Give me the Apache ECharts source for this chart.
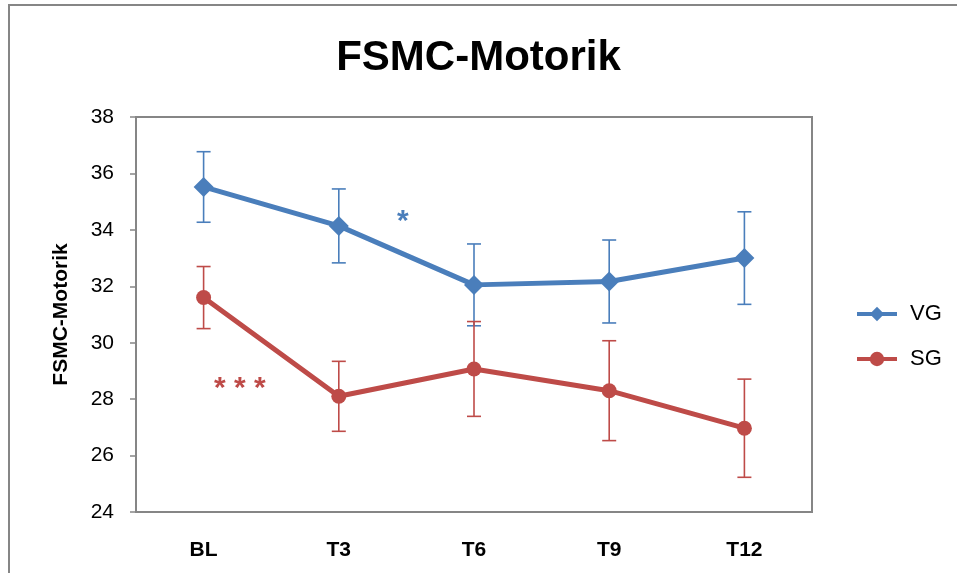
<!DOCTYPE html>
<html>
<head>
<meta charset="utf-8">
<script src="https://cdn.jsdelivr.net/npm/echarts@6/dist/echarts.min.js"></script>
<style>
  html, body { margin: 0; padding: 0; background: #fff; }
  #chart { width: 957px; height: 573px; }
</style>
</head>
<body>
<div id="chart"></div>
<script>
// Measurement points
const timepoints = ['BL', 'T3', 'T6', 'T9', 'T12'];

// Group means and error-bar half widths
const vgMean = [35.52, 34.14, 32.05, 32.17, 33.0];
const vgErr  = [1.25, 1.31, 1.45, 1.47, 1.64];
const sgMean = [31.6, 28.1, 29.07, 28.3, 26.97];
const sgErr  = [1.1, 1.24, 1.68, 1.77, 1.74];

const yTicks = [24, 26, 28, 30, 32, 34, 36, 38];

const BLUE = '#4a7ebb';
const RED = '#be4b48';
const FONT = '"Liberation Sans", Arial, sans-serif';

function errorSeries(name, means, errs, color) {
  return {
    type: 'custom',
    name: name + ' err',
    z: 1,
    silent: true,
    data: means.map((m, i) => [i, m - errs[i], m + errs[i]]),
    renderItem: function (params, api) {
      const x = api.value(0);
      const lo = api.coord([x, api.value(1)]);
      const hi = api.coord([x, api.value(2)]);
      const half = 7;
      const style = { stroke: color, lineWidth: 1.6 };
      return {
        type: 'group',
        children: [
          { type: 'line', shape: { x1: lo[0], y1: lo[1], x2: hi[0], y2: hi[1] }, style: style },
          { type: 'line', shape: { x1: lo[0] - half, y1: lo[1], x2: lo[0] + half, y2: lo[1] }, style: style },
          { type: 'line', shape: { x1: hi[0] - half, y1: hi[1], x2: hi[0] + half, y2: hi[1] }, style: style }
        ]
      };
    }
  };
}

const chart = echarts.init(document.getElementById('chart'));
chart.setOption({
  animation: false,
  backgroundColor: '#fff',
  title: {
    text: 'FSMC-Motorik',
    left: 'center',
    top: 32,
    textStyle: { fontFamily: FONT, fontSize: 42, fontWeight: 'bold', color: '#000' }
  },
  legend: {
    orient: 'vertical',
    left: 850,
    top: 298,
    itemWidth: 40,
    itemHeight: 18,
    itemGap: 23,
    data: ['VG', 'SG'],
    lineStyle: { width: 4 },
    textStyle: { fontFamily: FONT, fontSize: 22, color: '#000', padding: [0, 0, 0, 8] }
  },
  grid: {
    left: 136, top: 117, right: 145, bottom: 61,
    show: true, borderColor: '#868686', borderWidth: 2
  },
  xAxis: {
    type: 'category',
    data: timepoints,
    boundaryGap: true,
    axisLine: { lineStyle: { color: '#868686', width: 2 } },
    axisTick: { show: false },
    axisLabel: { margin: 28, fontFamily: FONT, fontSize: 21, fontWeight: 'bold', color: '#000' }
  },
  yAxis: {
    type: 'value',
    min: yTicks[0],
    max: yTicks[yTicks.length - 1],
    interval: 2,
    name: 'FSMC-Motorik',
    nameLocation: 'middle',
    nameGap: 64,
    nameTextStyle: { fontFamily: FONT, fontSize: 21, fontWeight: 'bold', color: '#000' },
    axisLine: { show: true, lineStyle: { color: '#868686', width: 2 } },
    axisTick: { show: true, length: 6, lineStyle: { color: '#868686', width: 1.5 } },
    splitLine: { show: false },
    axisLabel: { margin: 22, fontFamily: FONT, fontSize: 21, color: '#000' }
  },
  series: [
    errorSeries('VG', vgMean, vgErr, BLUE),
    errorSeries('SG', sgMean, sgErr, RED),
    {
      name: 'VG',
      type: 'line',
      data: vgMean,
      z: 3,
      symbol: 'diamond',
      symbolSize: 20,
      lineStyle: { color: BLUE, width: 5 },
      itemStyle: { color: BLUE }
    },
    {
      name: 'SG',
      type: 'line',
      data: sgMean,
      z: 3,
      symbol: 'circle',
      symbolSize: 15,
      lineStyle: { color: RED, width: 5 },
      itemStyle: { color: RED }
    }
  ],
  graphic: [
    {
      type: 'rect',
      shape: { x: 9, y: 5, width: 960, height: 600 },
      style: { fill: 'none', stroke: '#868686', lineWidth: 2 },
      silent: true
    },
    {
      type: 'text', left: 397, top: 207,
      style: { text: '*', fill: BLUE, font: 'bold 30px ' + FONT }
    },
    {
      type: 'text', left: 214, top: 374,
      style: { text: '* * *', fill: RED, font: 'bold 30px ' + FONT }
    }
  ]
});
</script>
</body>
</html>
